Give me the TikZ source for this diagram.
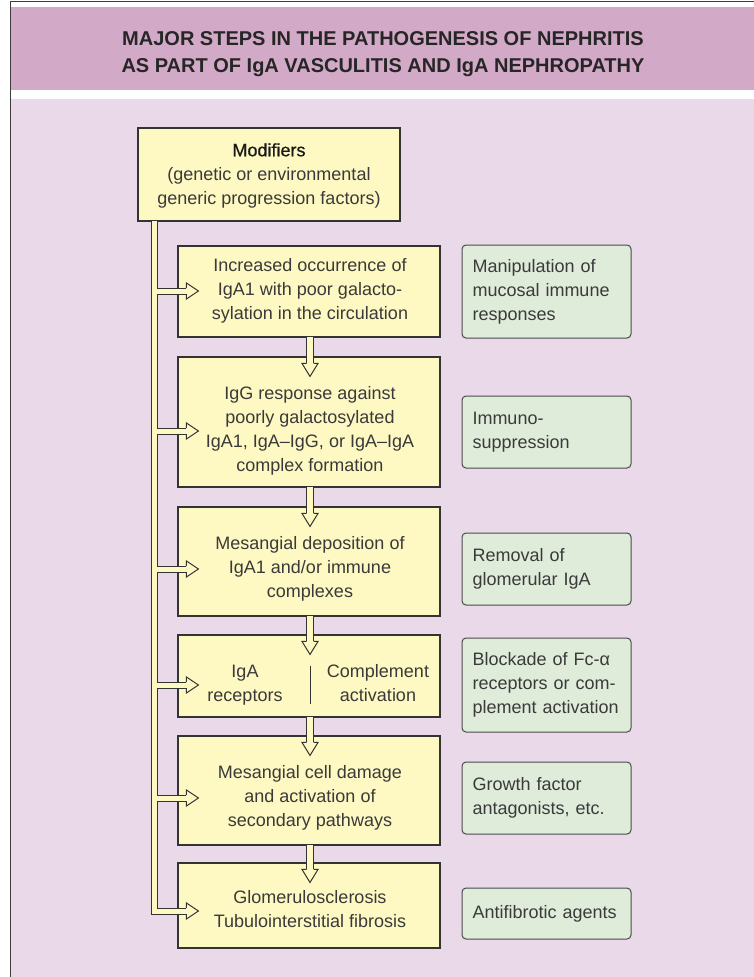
\documentclass[tikz,border=0pt]{standalone}
\usepackage{fontspec}
\setmainfont{Liberation Sans}
\newfontfamily\medfont{Liberation Sans}[FakeBold=0.6]
\usetikzlibrary{calc}
\definecolor{hdrC}{HTML}{D3A9C8}
\definecolor{bodyC}{HTML}{EADAE9}
\definecolor{yelC}{HTML}{FEF8C2}
\definecolor{grnC}{HTML}{DFECDA}
\definecolor{lineC}{HTML}{333333}
\definecolor{glineC}{HTML}{4A4A4A}
\definecolor{txtC}{HTML}{3A3A3A}
\definecolor{frameC}{HTML}{3C3C3C}
\tikzset{
  ybox/.style={rectangle, draw=lineC, line width=1.1pt, fill=yelC, inner sep=0pt, minimum width=262pt},
  gbox/.style={rectangle, draw=glineC, line width=1pt, fill=grnC, rounded corners=4pt,
     inner xsep=10.5pt, inner ysep=0pt, text width=148pt, align=left,
     font=\fontsize{18}{24}\selectfont, text=txtC, minimum width=169pt},
  btext/.style={font=\fontsize{18}{24}\selectfont, align=center, text=txtC, inner sep=0pt},
  titletext/.style={font=\fontsize{20}{27}\selectfont\bfseries, text=black!85, inner sep=0pt, anchor=base},
  headst/.style={fill=yelC, draw=lineC, line width=1pt, line join=miter},
}
\begin{document}
\begin{tikzpicture}[x=1pt, y=-1pt]
\useasboundingbox (0,0) rectangle (754,977);
% backgrounds
\fill[white] (0,0) rectangle (754,977);
\fill[hdrC] (11,7) rectangle (754,90);
\fill[bodyC] (11,99) rectangle (754,977);
\draw[frameC, line width=1.2pt] (10.5,977) -- (10.5,1.2) -- (754,1.2);
% title
\node[titletext] (ti1) at (383,45) {MAJOR STEPS IN THE PATHOGENESIS OF NEPHRITIS};
\node[titletext] (ti2) at (383,72) {AS PART OF IgA VASCULITIS AND IgA NEPHROPATHY};
% yellow boxes
\node[ybox, minimum height=93pt] (b0) at (269,174.5) {};
\node[ybox, minimum height=91pt] (b1) at (309,291.5) {};
\node[ybox, minimum height=130pt] (b2) at (309,422) {};
\node[ybox, minimum height=109pt] (b3) at (309,561.5) {};
\node[ybox, minimum height=82pt] (b4) at (309,676) {};
\node[ybox, minimum height=109pt] (b5) at (309,790.5) {};
\node[ybox, minimum height=85pt] (b6) at (309,905.5) {};
% box texts
\node[btext] (t0) at (269,175.5) {\strut{\medfont\color{black!90}Modifiers}\\(genetic or environmental\\generic progression factors)\strut};
\node[btext] (t1) at (310,291) {\strut Increased occurrence of\\IgA1 with poor galacto-\\sylation in the circulation\strut};
\node[btext] (t2) at (310,431) {\strut IgG response against\\poorly galactosylated\\IgA1, IgA--IgG, or IgA--IgA\\complex formation\strut};
\node[btext] (t3) at (310,569) {\strut Mesangial deposition of\\IgA1 and/or immune\\complexes\strut};
\node[btext] (t4) at (245,685) {\strut IgA\\receptors\strut};
\node[btext] (t4c) at (378,685) {\strut Complement\\activation\strut};
\node[btext] (t5) at (310,798) {\strut Mesangial cell damage\\and activation of\\secondary pathways\strut};
\node[btext] (t6) at (310,911) {\strut Glomerulosclerosis\\Tubulointerstitial fibrosis\strut};
% green boxes
\node[gbox, minimum height=93pt] (g1) at (546.5,291.5) {\strut Manipulation of\\mucosal immune\\responses\strut};
\node[gbox, minimum height=72pt] (g2) at (546.5,432) {\strut Immuno-\\suppression\strut};
\node[gbox, minimum height=72pt] (g3) at (546.5,569) {\strut Removal of\\glomerular IgA\strut};
\node[gbox, minimum height=94pt] (g4) at (546.5,685) {\strut Blockade of Fc-α\\receptors or com-\\plement activation\strut};
\node[gbox, minimum height=72pt] (g5) at (546.5,798) {\strut Growth factor\\antagonists, etc.\strut};
\node[gbox, minimum height=51pt] (g6) at (546.5,913.5) {\strut Antifibrotic agents\strut};
% connector geometry
\coordinate (bx) at (154,0);
\coordinate (ax) at (310,0);
\foreach \i in {1,2,3,4,5,6} {
  \coordinate (h\i) at ($(t\i -| b\i.west)+(9,0)$);
}
\foreach \i in {2,3,4,5,6} {
  \coordinate (v\i) at ($(b\i.north -| ax)+(0,7)$);
}
% connector network: dark pass then yellow pass
\foreach \w/\c/\vw in {7pt/lineC/8pt, 5pt/yelC/6pt} {
  \draw[line width=\w, color=\c, line join=miter] ($(b0.south -| bx)+(0,-1)$) -- (h6 -| bx) -- (h6);
  \foreach \i in {1,2,3,4,5} {
    \draw[line width=\w, color=\c] (h\i -| bx) -- (h\i);
  }
  \foreach \j/\i in {1/2,2/3,3/4,4/5,5/6} {
    \draw[line width=\vw, color=\c] ($(b\j.south -| ax)+(0,-1)$) -- (v\i);
  }
}
% arrow heads
\foreach \i in {1,2,3,4,5,6} {
  \filldraw[headst] ($(h\i)+(0,-3)$) -- ($(h\i)+(0,-8)$) -- ($(h\i)+(12,0)$) -- ($(h\i)+(0,8)$) -- ($(h\i)+(0,3)$);
}
\foreach \i in {2,3,4,5,6} {
  \filldraw[headst] ($(v\i)+(-3.5,0)$) -- ($(v\i)+(-8,0)$) -- ($(v\i)+(0,13)$) -- ($(v\i)+(8,0)$) -- ($(v\i)+(3.5,0)$);
}
% divider in box 4
\draw[lineC, line width=1pt] ($(t4 -| ax)+(0,-19)$) -- ($(t4 -| ax)+(0,19)$);
\end{tikzpicture}
\end{document}
